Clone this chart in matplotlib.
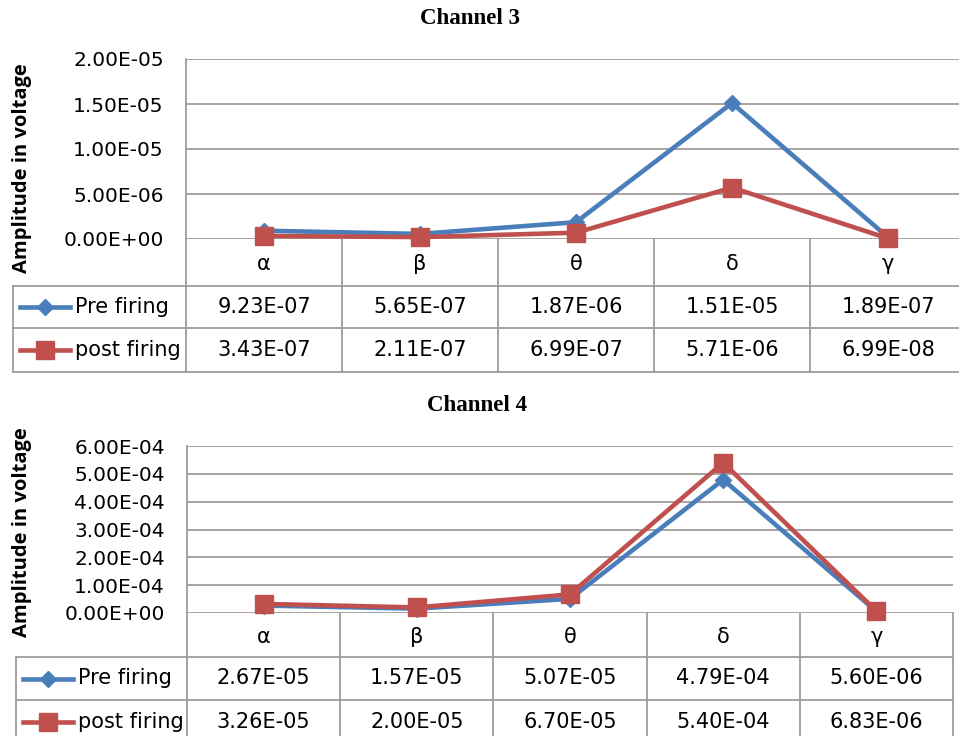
import matplotlib
matplotlib.use('agg')
import matplotlib.pyplot as plt

# band names and measured amplitudes
bands = ['α', 'β', 'θ', 'δ', 'γ']
ch3_pre = [9.23e-07, 5.65e-07, 1.87e-06, 1.51e-05, 1.89e-07]
ch3_post = [3.43e-07, 2.11e-07, 6.99e-07, 5.71e-06, 6.99e-08]
ch4_pre = [2.67e-05, 1.57e-05, 5.07e-05, 4.79e-04, 5.60e-06]
ch4_post = [3.26e-05, 2.00e-05, 6.70e-05, 5.40e-04, 6.83e-06]
ch3_ticks = [0, 5e-06, 1e-05, 1.5e-05, 2e-05]
ch4_ticks = [0, 1e-04, 2e-04, 3e-04, 4e-04, 5e-04, 6e-04]
series_names = ['Pre firing', 'post firing']

W, H = 959, 736
BLUE = '#4a7ebb'
RED = '#c0504d'
GRID = '#a39b9b'
FONT = 'DejaVu Sans'

fig = plt.figure(figsize=(W / 100, H / 100), dpi=100)


def px_axes(x0, y0, x1, y1):
    return fig.add_axes([x0 / W, 1 - y1 / H, (x1 - x0) / W, (y1 - y0) / H])


def sci(v):
    return '{:.2E}'.format(v)


def draw_chart(title, title_x, title_y, pre, post, ticks, box, rows, leg_left, label_y):
    x0, y0, x1, y1 = box
    colw = (x1 - x0) / len(bands)
    xs = list(range(len(bands)))

    # plot area
    ax = px_axes(x0, y0, x1, y1)
    ax.set_xlim(-0.5, len(bands) - 0.5)
    ax.set_ylim(ticks[0], ticks[-1])
    ax.set_yticks(ticks)
    ax.set_yticklabels([sci(t) for t in ticks], fontsize=14.5, family=FONT)
    ax.set_xticks([])
    ax.tick_params(axis='y', length=0, pad=16)
    ax.grid(axis='y', color=GRID, lw=1.3)
    for s in ['top', 'right', 'bottom']:
        ax.spines[s].set_visible(False)
    ax.spines['left'].set_color(GRID)
    ax.spines['left'].set_linewidth(1.3)
    ax.plot(xs, pre, color=BLUE, lw=3.3, marker='D', ms=8, clip_on=False, zorder=3)
    ax.plot(xs, post, color=RED, lw=3.3, marker='s', ms=13, clip_on=False, zorder=4)

    # data table under the plot
    r0, r1, r2, r3 = rows
    tx = px_axes(x0, y1, x1, y1 + r3)
    tx.set_xlim(-0.5, len(bands) - 0.5)
    tx.set_ylim(r3, 0)
    tx.axis('off')
    xl = -0.5 - (x0 - leg_left) / colw
    for k in range(len(bands) + 1):
        tx.plot([k - 0.5, k - 0.5], [0, r3], color=GRID, lw=1.3, clip_on=False)
    tx.plot([xl, xl], [r1, r3], color=GRID, lw=1.3, clip_on=False)
    for yy in [r1, r2, r3]:
        tx.plot([xl, len(bands) - 0.5], [yy, yy], color=GRID, lw=1.3, clip_on=False)

    for i, b in enumerate(bands):
        tx.text(i, (r0 + r1) / 2 + 2, b, ha='center', va='center', fontsize=15, family=FONT)
        tx.text(i, (r1 + r2) / 2, sci(pre[i]), ha='center', va='center', fontsize=15, family=FONT)
        tx.text(i, (r2 + r3) / 2, sci(post[i]), ha='center', va='center', fontsize=15, family=FONT)

    # legend keys inside the first column
    u = 1 / colw
    for (ya, yb), col, mk, ms, name in [((r1, r2), BLUE, 'D', 8, series_names[0]),
                                         ((r2, r3), RED, 's', 13, series_names[1])]:
        yc = (ya + yb) / 2
        tx.plot([xl + 7 * u, xl + 57 * u], [yc, yc], color=col, lw=3.3, clip_on=False)
        tx.plot([xl + 32 * u], [yc], color=col, marker=mk, ms=ms, clip_on=False)
        tx.text(xl + 62 * u, yc, name, ha='left', va='center', fontsize=15, family=FONT)

    fig.text(title_x / W, 1 - title_y / H, title, ha='center', va='center',
             fontsize=16.5, fontweight='bold', family='Liberation Serif')
    fig.text(22 / W, 1 - label_y / H, 'Amplitude in voltage', rotation=90,
             ha='center', va='center', fontsize=14.5, fontweight='bold', family='Open Sans')


draw_chart('Channel 3', 470, 18, ch3_pre, ch3_post, ch3_ticks,
           (186, 59, 966, 239), (0, 47, 89, 133), 13, 168)
draw_chart('Channel 4', 477, 406, ch4_pre, ch4_post, ch4_ticks,
           (187, 446, 953, 613), (0, 44, 87, 131), 16, 532)

fig.savefig('out.png', dpi=100)
